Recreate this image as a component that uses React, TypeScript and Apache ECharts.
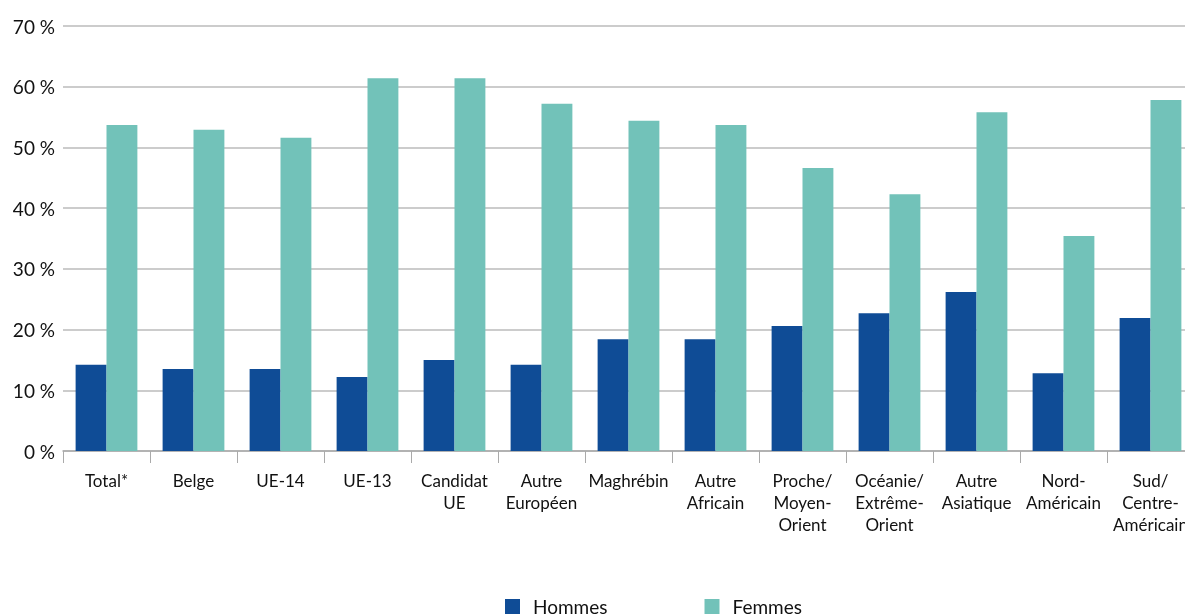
import React, { useEffect, useRef } from "react";
import * as echarts from "echarts";

const categories = [
  "Total*",
  "Belge",
  "UE-14",
  "UE-13",
  "Candidat\nUE",
  "Autre\nEuropéen",
  "Maghrébin",
  "Autre\nAfricain",
  "Proche/\nMoyen-\nOrient",
  "Océanie/\nExtrême-\nOrient",
  "Autre\nAsiatique",
  "Nord-\nAméricain",
  "Sud/\nCentre-\nAméricain",
];
const hommes = [14.2, 13.5, 13.5, 12.2, 15.0, 14.2, 18.4, 18.4, 20.6, 22.7, 26.2, 12.8, 21.9];
const femmes = [53.7, 52.9, 51.6, 61.4, 61.4, 57.2, 54.4, 53.7, 46.6, 42.3, 55.8, 35.4, 57.8];
const yTicks = { min: 0, max: 70, interval: 10 };

export default function App() {
  const ref = useRef<HTMLDivElement>(null);
  useEffect(() => {
    if (!ref.current) return;
    const chart = echarts.init(ref.current, null, { renderer: "svg" });
    chart.setOption({
      animation: false,
      textStyle: { fontFamily: "Lato" },
      legend: {
        left: 500,
        top: 592,
        itemWidth: 15,
        itemHeight: 15,
        itemGap: 97,
        icon: "rect",
        textStyle: {
          fontSize: 19,
          color: "#111",
          fontFamily: "Lato",
          padding: [0, 0, 0, 8],
        },
        data: ["Hommes", "Femmes"],
      },
      grid: { left: 63, top: 26, width: 1131, height: 425, containLabel: false },
      xAxis: {
        type: "category",
        data: categories,
        axisLine: { lineStyle: { color: "#aaa", width: 1.5 } },
        axisTick: { show: true, length: 12, lineStyle: { color: "#aaa" } },
        axisLabel: {
          color: "#111",
          fontSize: 17,
          lineHeight: 22,
          margin: 18,
          interval: 0,
          fontFamily: "Lato",
        },
      },
      yAxis: {
        type: "value",
        min: yTicks.min,
        max: yTicks.max,
        interval: yTicks.interval,
        axisLine: { show: false },
        axisTick: { show: false },
        splitLine: { lineStyle: { color: "#bbb", width: 1.5 } },
        axisLabel: {
          color: "#111",
          fontSize: 19,
          margin: 8,
          formatter: "{value} %",
          fontFamily: "Lato",
        },
      },
      series: [
        {
          name: "Hommes",
          type: "bar",
          data: hommes,
          barGap: "0%",
          barCategoryGap: "29%",
          itemStyle: { color: "#0f4c96" },
        },
        {
          name: "Femmes",
          type: "bar",
          data: femmes,
          itemStyle: { color: "#72c2b9" },
        },
      ],
    });
    return () => chart.dispose();
  }, []);
  return (
    <div
      style={{
        position: "fixed",
        left: 0,
        top: 0,
        width: 1185,
        height: 615,
        overflow: "hidden",
      }}
    >
      <div ref={ref} style={{ width: 1200, height: 615 }} />
    </div>
  );
}
